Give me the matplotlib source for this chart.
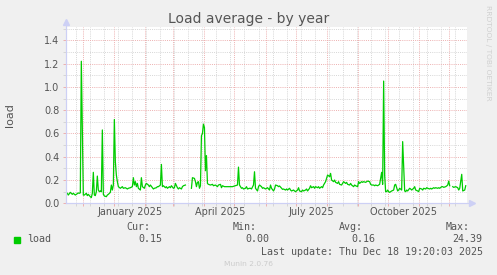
import numpy as np
import pandas as pd
import matplotlib
matplotlib.use("Agg")
import matplotlib.pyplot as plt
import matplotlib.dates as mdates
from matplotlib.ticker import MultipleLocator, FixedLocator, FormatStrFormatter
from matplotlib.patches import Rectangle

nan = np.nan

# Munin yearly graph: 400 days back from the last update
start = pd.Timestamp("2024-11-14")
end = start + pd.Timedelta(days=400)

# day offsets from start, and daily load average
days = [1, 2, 4, 6, 7, 9, 11, 12, 13, 14, 15, 17, 18, 20, 21, 22, 24, 25, 26, 27,
        28, 29, 30, 31, 32, 33, 34, 35, 36, 37, 38, 40, 41, 42, 44, 45, 46, 47, 48, 49,
        50, 51, 52, 54, 56, 57, 59,
        61, 62, 64, 66, 67, 68, 69, 70, 71, 72, 74, 75, 76, 78, 79, 80, 82, 83, 84, 86,
        87, 88, 90, 91, 92, 94, 95, 96, 97, 99, 100, 101, 103, 104, 105, 107, 108, 109, 111, 112,
        113, 115, 116, 117, 119, 120,
        125, 126, 128, 129, 130, 131, 132, 133, 134, 135, 136, 137, 138, 139, 140, 141, 142, 144, 146, 147,
        149, 151, 152, 154, 155, 156, 158, 159, 161, 162, 164, 166, 167, 169, 171, 172, 173, 175, 176, 177,
        179, 180, 181, 183, 184, 185, 187, 188, 189, 191,
        192, 193, 195, 196, 197, 199, 200, 201, 203, 204, 205, 207, 208, 209, 211, 212, 213, 215, 216, 217,
        219, 220, 221, 223, 224, 225, 227, 228, 229, 231, 232, 233, 235, 236, 237, 239, 240, 241, 243, 244,
        245, 247, 248, 249, 251, 252, 253, 255, 256, 257,
        259, 260, 261, 263, 264, 265, 267, 268, 269, 271, 272, 273, 275, 276, 277, 279, 280, 281, 283, 284,
        285, 287, 288, 289, 291, 292, 293, 295, 296, 297, 299, 300, 301, 303, 304, 305, 307, 308, 309, 311,
        312, 313, 315, 316, 317, 318, 319, 320, 321, 322,
        323, 324, 325, 327, 328, 329, 331, 332, 333, 335, 336, 338, 339, 340, 341, 343, 344, 345, 347, 348,
        349, 351, 352, 353, 355, 356, 357, 359, 360, 361, 363, 364, 365, 367, 368, 369, 371, 372, 373, 375,
        376, 377, 379, 380, 381, 382, 383, 384, 386, 387, 389, 391, 392, 393, 395, 396, 398, 399]

load = [.086, .071, .094, .077, .086, .071, .083, .089, .086, .09, 1.22, .07, .071, .086, .066, .077, .057, .049, .086, .266,
        .071, .066, .10, .234, .114, .10, .106, .10, .63, .077, .063, .057, .071, .077, .094, .157, .114, .157, .72, .357,
        .243, .186, .143, .129, .143, .129, .134,
        .123, .129, .134, .143, .22, .157, .186, .143, .171, .129, .114, .22, .143, .129, .157, .171, .157, .143, .157, .134,
        .123, .129, .134, .143, .143, .157, .334, .143, .151, .134, .143, .129, .143, .134, .151, .129, .134, .171, .134, .123,
        .134, .123, .143, .151, .157, nan,
        .129, .22, .214, .186, .143, .18, .186, .129, .15, .58, .60, .68, .65, .28, .41, .17, .163, .157, .163, .151,
        .157, .143, .157, .163, .134, .151, .143, .143, .143, .143, .143, .143, .146, .151, .157, .311, .157, .129, .134, .123,
        .129, .143, .123, .129, .129, .123, .157, .271, .129, .106,
        .143, .157, .143, .129, .134, .123, .129, .134, .114, .157, .129, .106, .123, .157, .151, .143, .149, .129, .12, .123,
        .114, .123, .114, .129, .114, .106, .114, .106, .10, .114, .134, .106, .10, .114, .106, .114, .123, .106, .129, .151,
        .134, .143, .129, .143, .134, .143, .129, .143, .134, .157,
        .186, .214, .243, .229, .257, .20, .186, .20, .18, .171, .186, .163, .157, .171, .186, .171, .18, .163, .157, .171,
        .157, .143, .157, .151, .143, .186, .171, .186, .18, .186, .18, .186, .191, .186, .163, .157, .157, .151, .157, .151,
        .157, .163, .266, .163, 1.05, .24, .10, .10, .114, .10,
        .094, .10, .106, .114, .157, .163, .106, .114, .129, .114, .53, .106, .10, .114, .106, .129, .123, .114, .129, .143,
        .114, .106, .10, .129, .123, .114, .129, .123, .134, .129, .123, .129, .123, .134, .129, .134, .129, .134, .129, .143,
        .143, .137, .143, .149, .157, .191, .151, nan, .143, .137, .143, .134, .114, .129, .249, .106, .114, .151]

month_labels = ["January 2025", "April 2025", "July 2025", "October 2025"]
month_starts = ["2025-01-01", "2025-04-01", "2025-07-01", "2025-10-01"]

legend_heads = ["Cur:", "Min:", "Avg:", "Max:"]
legend_vals = ["0.15", "0.00", "0.16", "24.39"]

dates = start + pd.to_timedelta(days, unit="D")

text_col = "#555555"
grid_gray = "#D6D6D6"
grid_red = "#EDB0B0"
axis_col = "#CDD0F5"

fig = plt.figure(figsize=(4.97, 2.75), dpi=100, facecolor="#F0F0F0")
ax = fig.add_axes([0.1334, 0.2607, 0.8057, 0.6422])
ax.set_facecolor("white")
ax.set_axisbelow(True)

ax.plot(dates, load, color="#00CC00", lw=0.9)

ax.set_xlim(start, end)
ax.set_ylim(0, 1.517)

# grid: red every month / 0.2, gray every two weeks / 0.1
ax.yaxis.set_major_locator(MultipleLocator(0.2))
ax.yaxis.set_minor_locator(MultipleLocator(0.1))
ax.yaxis.set_major_formatter(FormatStrFormatter("%.1f"))
ax.xaxis.set_major_locator(mdates.MonthLocator())
two_weeks = pd.date_range("2024-11-24", end, freq="14D")
ax.xaxis.set_minor_locator(FixedLocator(mdates.date2num(two_weeks)))
ax.grid(which="minor", color=grid_gray, ls=(0, (1, 1.2)), lw=0.7)
ax.grid(which="major", color=grid_red, ls=(0, (1, 1.2)), lw=0.7)

ax.tick_params(axis="both", which="both", length=2, width=0.7)
ax.tick_params(which="major", color=grid_red)
ax.tick_params(which="minor", color=grid_gray)
ax.tick_params(axis="x", labelbottom=False)
ax.tick_params(axis="y", labelsize=7, labelcolor=text_col, pad=3)

# month labels sit in the middle of the month
for lab, m in zip(month_labels, month_starts):
    ax.text(pd.Timestamp(m) + pd.Timedelta(days=15.5), -0.049, lab,
            transform=ax.get_xaxis_transform(), ha="center", va="center",
            fontsize=7, color=text_col)

# axes with arrows
for s in ["top", "right"]:
    ax.spines[s].set_visible(False)
for s in ["left", "bottom"]:
    ax.spines[s].set_color(axis_col)
ax.plot([0, 0], [0, 1.027], transform=ax.transAxes, color=axis_col, lw=0.8, clip_on=False)
ax.plot([0, 1.013], [0, 0], transform=ax.transAxes, color=axis_col, lw=0.8, clip_on=False)
ax.plot([0], [1.027], marker="^", ms=4, color=axis_col, transform=ax.transAxes, clip_on=False)
ax.plot([1.013], [0], marker=">", ms=4, color=axis_col, transform=ax.transAxes, clip_on=False)

fig.text(0.5, 1 - 19 / 275, "Load average - by year", ha="center", va="center",
         fontsize=10, color=text_col)
fig.text(10 / 497, 1 - 115 / 275, "load", rotation=90, ha="center", va="center",
         fontsize=8, color=text_col)
fig.text(488 / 497, 1 - 53 / 275, "RRDTOOL / TOBI OETIKER", rotation=270,
         ha="center", va="center", fontsize=5.4, color="#D0D0D0")

# legend block
mono = dict(family="DejaVu Sans Mono", fontsize=7.2, color=text_col, va="center")
head_x = [150, 256.7, 363.3, 470]
val_x = [162.3, 269, 375.7, 482.7]
for h, hx in zip(legend_heads, head_x):
    fig.text(hx / 497, 1 - 227.3 / 275, h, ha="right", **mono)
for v, vx in zip(legend_vals, val_x):
    fig.text(vx / 497, 1 - 239.5 / 275, v, ha="right", **mono)
fig.patches.append(Rectangle((14 / 497, 1 - 243 / 275), 6 / 497, 6 / 275,
                             transform=fig.transFigure, color="#00CC00"))
fig.text(26.7 / 497, 1 - 239.5 / 275, "load", ha="left", **mono)
fig.text(482.7 / 497, 1 - 251.7 / 275, "Last update: Thu Dec 18 19:20:03 2025",
         ha="right", **mono)
fig.text(248 / 497, 1 - 264 / 275, "Munin 2.0.76", ha="center", va="center",
         fontsize=5.4, color="#CCCCCC")

fig.savefig("out.png", dpi=100, facecolor=fig.get_facecolor())
